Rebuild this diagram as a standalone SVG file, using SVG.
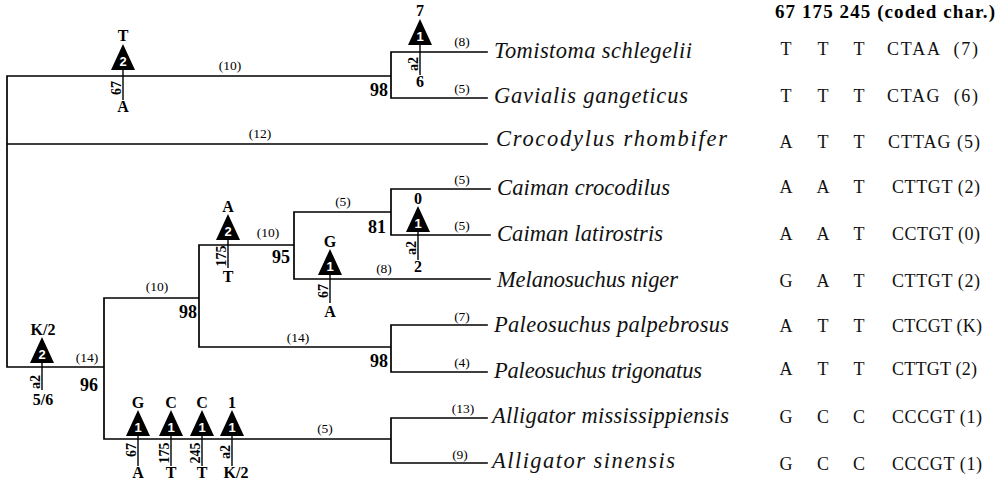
<svg xmlns="http://www.w3.org/2000/svg" width="1001" height="480" viewBox="0 0 1001 480">
<style>
.br{stroke:#000;stroke-width:1.7;fill:none;stroke-linecap:square}
.tk{stroke:#000;stroke-width:1.4}
.tax{font-family:"Liberation Serif",serif;font-style:italic;font-size:22.5px;fill:#111}
.bl{font-family:"Liberation Serif",serif;font-size:13.5px;fill:#000;text-anchor:middle}
.sup{font-family:"Liberation Serif",serif;font-weight:bold;font-size:18px;fill:#000;text-anchor:end}
.st{font-family:"Liberation Serif",serif;font-weight:bold;font-size:16px;fill:#000;text-anchor:middle}
.rot{font-family:"Liberation Serif",serif;font-weight:bold;font-size:14px;fill:#000;text-anchor:middle}
.tri{fill:#000}
.num{font-family:"Liberation Sans",sans-serif;font-weight:bold;font-size:13px;fill:#fff;text-anchor:middle}
.tb{font-family:"Liberation Serif",serif;font-size:18px;fill:#111}
.tc{font-family:"Liberation Serif",serif;font-size:18px;fill:#111;text-anchor:middle}
.hd{font-family:"Liberation Serif",serif;font-weight:bold;font-size:19px;fill:#000}
</style>
<rect width="1001" height="480" fill="#fff"/>

<g id="connectors">
<path class="br" d="M7,76V367 M7,76H391 M391,52V98 M391,52H487 M391,98H487 M7,144H487 M7,367H104 M104,298V439 M104,298H199 M199,245V347 M199,245H294 M294,212V279 M294,212H391 M391,189V235 M391,189H490 M391,235H490 M294,279H490 M199,347H391 M391,325V372 M391,325H487 M391,372H487 M104,439H391 M391,418V463 M391,418H487 M391,463H487"/>
</g>

<g id="branch-lengths">
<text class="bl" x="230" y="70">(10)</text>
<text class="bl" x="260" y="138">(12)</text>
<text class="bl" x="462" y="46">(8)</text>
<text class="bl" x="462" y="93">(5)</text>
<text class="bl" x="268" y="237">(10)</text>
<text class="bl" x="157" y="291">(10)</text>
<text class="bl" x="343" y="206">(5)</text>
<text class="bl" x="462" y="184">(5)</text>
<text class="bl" x="462" y="230">(5)</text>
<text class="bl" x="384" y="273">(8)</text>
<text class="bl" x="462" y="321">(7)</text>
<text class="bl" x="298" y="342">(14)</text>
<text class="bl" x="87" y="362">(14)</text>
<text class="bl" x="462" y="367">(4)</text>
<text class="bl" x="325" y="433">(5)</text>
<text class="bl" x="463" y="413">(13)</text>
<text class="bl" x="460" y="459">(9)</text>
</g>

<g id="support">
<text class="sup" x="388" y="96">98</text>
<text class="sup" x="290" y="263">95</text>
<text class="sup" x="386" y="233">81</text>
<text class="sup" x="197" y="318">98</text>
<text class="sup" x="388" y="367">98</text>
<text class="sup" x="98" y="391">96</text>
</g>

<g id="ch1">
<line class="tk" x1="123" y1="58" x2="123" y2="100"/>
<polygon class="tri" points="123,44 135,70 111,70"/>
<text class="num" x="123" y="66">2</text>
<text class="st" x="123" y="41">T</text>
<text class="st" x="123" y="112">A</text>
<text class="rot" transform="translate(121,88) rotate(-90)">67</text>
</g>
<g id="ch2">
<line class="tk" x1="420" y1="32" x2="420" y2="75"/>
<polygon class="tri" points="420,19 432,45 408,45"/>
<text class="num" x="420" y="41">1</text>
<text class="st" x="420" y="16">7</text>
<text class="st" x="420" y="87">6</text>
<text class="rot" transform="translate(418,64) rotate(-90)">a2</text>
</g>
<g id="ch3">
<line class="tk" x1="228" y1="228" x2="228" y2="268"/>
<polygon class="tri" points="228,214 240,240 216,240"/>
<text class="num" x="228" y="236">2</text>
<text class="st" x="228" y="212">A</text>
<text class="st" x="228" y="282">T</text>
<text class="rot" transform="translate(226,256) rotate(-90)">175</text>
</g>
<g id="ch4">
<line class="tk" x1="330" y1="262" x2="330" y2="303"/>
<polygon class="tri" points="330,249 342,275 318,275"/>
<text class="num" x="330" y="271">1</text>
<text class="st" x="330" y="247">G</text>
<text class="st" x="330" y="317">A</text>
<text class="rot" transform="translate(328,291) rotate(-90)">67</text>
</g>
<g id="ch5">
<line class="tk" x1="418" y1="219" x2="418" y2="260"/>
<polygon class="tri" points="418,206 430,232 406,232"/>
<text class="num" x="418" y="228">1</text>
<text class="st" x="418" y="204">0</text>
<text class="st" x="418" y="272">2</text>
<text class="rot" transform="translate(416,248) rotate(-90)">a2</text>
</g>
<g id="ch6">
<line class="tk" x1="42" y1="350" x2="42" y2="390"/>
<polygon class="tri" points="42,337 54,363 30,363"/>
<text class="num" x="42" y="359">2</text>
<text class="st" x="43" y="335">K/2</text>
<text class="st" x="43" y="405">5/6</text>
<text class="rot" transform="translate(40,382) rotate(-90)">a2</text>
</g>
<g id="ch7">
<line class="tk" x1="138" y1="423" x2="138" y2="466"/>
<polygon class="tri" points="138,410 150,436 126,436"/>
<text class="num" x="138" y="432">1</text>
<text class="st" x="138" y="408">G</text>
<text class="st" x="138" y="478">A</text>
<text class="rot" transform="translate(136,450) rotate(-90)">67</text>
</g>
<g id="ch8">
<line class="tk" x1="171" y1="423" x2="171" y2="466"/>
<polygon class="tri" points="171,410 183,436 159,436"/>
<text class="num" x="171" y="432">1</text>
<text class="st" x="171" y="408">C</text>
<text class="st" x="171" y="478">T</text>
<text class="rot" transform="translate(169,453) rotate(-90)">175</text>
</g>
<g id="ch9">
<line class="tk" x1="202" y1="423" x2="202" y2="466"/>
<polygon class="tri" points="202,410 214,436 190,436"/>
<text class="num" x="202" y="432">1</text>
<text class="st" x="202" y="408">C</text>
<text class="st" x="202" y="478">T</text>
<text class="rot" transform="translate(200,453) rotate(-90)">245</text>
</g>
<g id="ch10">
<line class="tk" x1="232" y1="423" x2="232" y2="466"/>
<polygon class="tri" points="232,410 244,436 220,436"/>
<text class="num" x="232" y="432">1</text>
<text class="st" x="232" y="408">1</text>
<text class="st" x="236" y="478">K/2</text>
<text class="rot" transform="translate(230,452) rotate(-90)">a2</text>
</g>

<g id="header">
<text class="hd" x="775" y="18" textLength="220" lengthAdjust="spacing">67 175 245 (coded char.)</text>
</g>

<g id="t-tomistoma">
<text class="tax" x="494" y="58" textLength="198">Tomistoma schlegelii</text>
<text class="tc" x="786" y="55">T</text><text class="tc" x="823" y="55">T</text><text class="tc" x="859" y="55">T</text>
<text class="tb" x="887" y="55" textLength="91" xml:space="preserve">CTAA  (7)</text>
</g>
<g id="t-gavialis">
<text class="tax" x="494" y="103" textLength="194">Gavialis gangeticus</text>
<text class="tc" x="786" y="102">T</text><text class="tc" x="823" y="102">T</text><text class="tc" x="859" y="102">T</text>
<text class="tb" x="887" y="102" textLength="91" xml:space="preserve">CTAG  (6)</text>
</g>
<g id="t-crocodylus">
<text class="tax" x="496" y="146" textLength="231">Crocodylus rhombifer</text>
<text class="tc" x="786" y="148">A</text><text class="tc" x="823" y="148">T</text><text class="tc" x="859" y="148">T</text>
<text class="tb" x="888" y="148" textLength="92">CTTAG (5)</text>
</g>
<g id="t-caiman-croc">
<text class="tax" x="497" y="195" textLength="173">Caiman crocodilus</text>
<text class="tc" x="786" y="193">A</text><text class="tc" x="823" y="193">A</text><text class="tc" x="859" y="193">T</text>
<text class="tb" x="892" y="193" textLength="88">CTTGT (2)</text>
</g>
<g id="t-caiman-lat">
<text class="tax" x="497" y="241" textLength="166">Caiman latirostris</text>
<text class="tc" x="786" y="240">A</text><text class="tc" x="823" y="240">A</text><text class="tc" x="859" y="240">T</text>
<text class="tb" x="892" y="240" textLength="88">CCTGT (0)</text>
</g>
<g id="t-melanosuchus">
<text class="tax" x="497" y="287" textLength="181">Melanosuchus niger</text>
<text class="tc" x="786" y="287">G</text><text class="tc" x="823" y="287">A</text><text class="tc" x="859" y="287">T</text>
<text class="tb" x="892" y="287" textLength="88">CTTGT (2)</text>
</g>
<g id="t-paleo-palp">
<text class="tax" x="494" y="332" textLength="235">Paleosuchus palpebrosus</text>
<text class="tc" x="786" y="332">A</text><text class="tc" x="823" y="332">T</text><text class="tc" x="859" y="332">T</text>
<text class="tb" x="892" y="332" textLength="90">CTCGT (K)</text>
</g>
<g id="t-paleo-trig">
<text class="tax" x="494" y="378" textLength="208">Paleosuchus trigonatus</text>
<text class="tc" x="786" y="375">A</text><text class="tc" x="823" y="375">T</text><text class="tc" x="859" y="375">T</text>
<text class="tb" x="892" y="375" textLength="85">CTTGT (2)</text>
</g>
<g id="t-alligator-miss">
<text class="tax" x="492" y="423" textLength="237">Alligator mississippiensis</text>
<text class="tc" x="786" y="423">G</text><text class="tc" x="823" y="423">C</text><text class="tc" x="859" y="423">C</text>
<text class="tb" x="892" y="423" textLength="90">CCCGT (1)</text>
</g>
<g id="t-alligator-sin">
<text class="tax" x="492" y="468" textLength="183">Alligator sinensis</text>
<text class="tc" x="786" y="470">G</text><text class="tc" x="823" y="470">C</text><text class="tc" x="859" y="470">C</text>
<text class="tb" x="892" y="470" textLength="90">CCCGT (1)</text>
</g>
</svg>
